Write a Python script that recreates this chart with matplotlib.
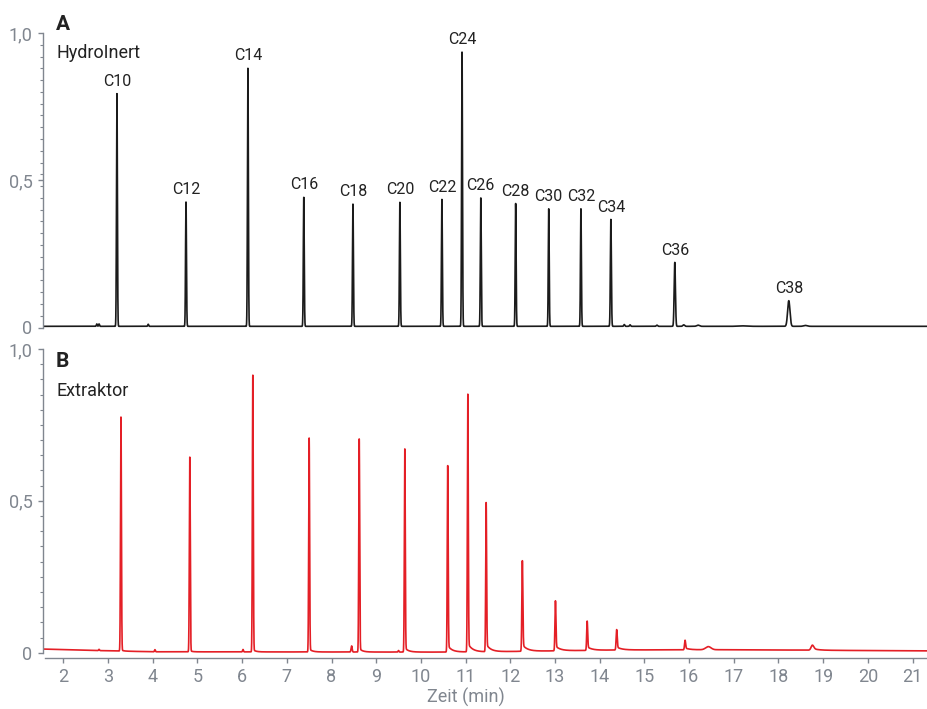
import numpy as np
import matplotlib
matplotlib.use("Agg")
import matplotlib.pyplot as plt
from matplotlib.ticker import FixedLocator, MultipleLocator, FuncFormatter

plt.rcParams['font.family'] = ['Roboto', 'DejaVu Sans']

# ---- Panel A: HydroInert (n-alkanes) ----
labels_a = ['C10', 'C12', 'C14', 'C16', 'C18', 'C20', 'C22', 'C24',
            'C26', 'C28', 'C30', 'C32', 'C34', 'C36', 'C38']
rt_a = [3.20, 4.745, 6.13, 7.38, 8.48, 9.53, 10.47, 10.92,
        11.34, 12.12, 12.86, 13.58, 14.25, 15.68, 18.23]
apex_a = [0.794, 0.426, 0.880, 0.442, 0.419, 0.425, 0.435, 0.935,
          0.440, 0.421, 0.403, 0.403, 0.367, 0.221, 0.091]
width_a = [0.010, 0.010, 0.010, 0.010, 0.010, 0.010, 0.010, 0.010,
           0.010, 0.010, 0.010, 0.010, 0.011, 0.014, 0.026]
baseline_a = 0.004

# small unlabelled signals in panel A
minor_rt_a = [2.75, 2.80, 3.90, 14.55, 14.68, 15.28, 15.88, 16.20, 17.20, 18.60]
minor_h_a = [0.008, 0.008, 0.007, 0.006, 0.005, 0.004, 0.005, 0.004, 0.0015, 0.003]
minor_w_a = [0.010, 0.010, 0.010, 0.012, 0.012, 0.015, 0.020, 0.030, 0.100, 0.040]

# ---- Panel B: Extraktor ----
rt_b = [3.29, 4.83, 6.24, 7.50, 8.62, 9.64, 10.60, 11.05,
        11.46, 12.27, 13.01, 13.72, 14.38, 15.91, 16.43, 18.76]
apex_b = [0.776, 0.644, 0.914, 0.707, 0.704, 0.671, 0.616, 0.851,
          0.494, 0.303, 0.171, 0.104, 0.076, 0.041, 0.020, 0.025]
width_b = [0.010, 0.010, 0.010, 0.010, 0.010, 0.010, 0.010, 0.010,
           0.010, 0.011, 0.011, 0.011, 0.012, 0.012, 0.060, 0.030]
tail_amp_b = [0.004, 0.004, 0.008, 0.010, 0.012, 0.014, 0.022, 0.028,
              0.025, 0.022, 0.016, 0.012, 0.010, 0.006, 0.000, 0.006]
tail_tau_b = [0.05, 0.05, 0.06, 0.07, 0.07, 0.08, 0.09, 0.10,
              0.10, 0.11, 0.11, 0.11, 0.11, 0.10, 0.10, 0.12]

minor_rt_b = [2.80, 4.05, 6.02, 8.45, 9.50]
minor_h_b = [0.004, 0.007, 0.008, 0.020, 0.005]
minor_w_b = [0.010, 0.010, 0.010, 0.012, 0.010]

# drifting detector baseline of trace B
base_t_b = [1.55, 2.5, 4.0, 10.3, 11.5, 12.5, 14.4, 17.0, 20.0, 21.4]
base_v_b = [0.012, 0.008, 0.003, 0.002, 0.003, 0.005, 0.009, 0.010, 0.007, 0.006]

x_ticks = list(range(2, 22))
y_ticks = [0, 0.5, 1.0]

BLACK = '#1b1b1b'
RED = '#e41f26'
GREY = '#80868f'
TEXT = '#222222'


def gauss(t, rt, h, w):
    return h * np.exp(-0.5 * ((t - rt) / w) ** 2)


t = np.linspace(1.55, 21.4, 40000)

trace_a = np.full_like(t, baseline_a)
for rt, ap, w in zip(rt_a, apex_a, width_a):
    trace_a += gauss(t, rt, ap - baseline_a, w)
for rt, h, w in zip(minor_rt_a, minor_h_a, minor_w_a):
    trace_a += gauss(t, rt, h, w)

base_b = np.interp(t, base_t_b, base_v_b)
trace_b = base_b.copy()
for rt, ap, w, a, tau in zip(rt_b, apex_b, width_b, tail_amp_b, tail_tau_b):
    b0 = np.interp(rt, base_t_b, base_v_b)
    trace_b += gauss(t, rt, ap - b0 - a, w)
    tail = np.where(t >= rt, a * np.exp(-(t - rt).clip(0) / tau), 0.0)
    # soften onset of the tail with the peak front
    tail = np.where(t < rt, a * np.exp(-0.5 * ((t - rt) / w) ** 2), tail)
    trace_b += tail
for rt, h, w in zip(minor_rt_b, minor_h_b, minor_w_b):
    trace_b += gauss(t, rt, h, w)

W, H = 928, 709
fig = plt.figure(figsize=(W / 100, H / 100), dpi=100)

x_left_px, x_right_px = 43, 928
xlim = (2 - (63.3 - x_left_px) / 44.7, 2 + (x_right_px - 63.3) / 44.7)


def make_axes(y_top_px, y_zero_px, ymin):
    unit = y_zero_px - y_top_px
    bottom_px = y_zero_px + (-ymin) * unit
    return fig.add_axes([x_left_px / W, 1 - bottom_px / H,
                         (x_right_px - x_left_px) / W, (bottom_px - y_top_px) / H])


fmt = FuncFormatter(lambda v, p: '0' if abs(v) < 1e-9 else f'{v:.1f}'.replace('.', ','))

ax_a = make_axes(33.0, 327.5, -0.02)
ax_b = make_axes(349.0, 652.7, -0.0165)

for ax in (ax_a, ax_b):
    ax.set_xlim(*xlim)
    for s in ('top', 'right'):
        ax.spines[s].set_visible(False)
    ax.spines['left'].set_bounds(0, 1)
    ax.spines['left'].set_color(GREY)
    ax.spines['left'].set_linewidth(1.0)
    ax.yaxis.set_major_locator(FixedLocator(y_ticks))
    ax.yaxis.set_major_formatter(fmt)
    ax.tick_params(axis='y', which='major', length=3.5, width=1.0, color=GREY,
                   labelcolor=GREY, labelsize=13, pad=4)
    ax.tick_params(axis='y', which='minor', length=2.5, width=0.8, color=GREY)
    ax.patch.set_visible(False)

ax_a.set_ylim(-0.02, 1.0)
ax_b.set_ylim(-0.0165, 1.0)
ax_a.yaxis.set_minor_locator(FixedLocator(list(np.arange(0, 1.0001, 0.04))))
ax_b.yaxis.set_minor_locator(MultipleLocator(0.05))

ax_a.spines['bottom'].set_visible(False)
ax_a.set_xticks([])

ax_b.spines['bottom'].set_color(GREY)
ax_b.spines['bottom'].set_linewidth(1.0)
ax_b.spines['bottom'].set_bounds(xlim[0] + 0.04, xlim[1])
ax_b.set_xticks(x_ticks)
ax_b.set_xticklabels([str(v) for v in x_ticks])
ax_b.tick_params(axis='x', which='major', length=3.5, width=1.0, color=GREY,
                 labelcolor=GREY, labelsize=13, pad=4)

ax_a.plot(t, trace_a, color=BLACK, lw=1.2, solid_joinstyle='round')
ax_b.plot(t, trace_b, color=RED, lw=1.2, solid_joinstyle='round')

for lab, rt, ap in zip(labels_a, rt_a, apex_a):
    ax_a.annotate(lab, xy=(rt, ap), xytext=(0, 3.5), textcoords='offset points',
                  ha='center', va='bottom', fontsize=11.5, color=TEXT)

fig.text(56 / W, 1 - 30 / H, 'A', fontsize=15, fontweight='bold', color=TEXT,
         ha='left', va='baseline')
fig.text(57 / W, 1 - 58.3 / H, 'HydroInert', fontsize=13, color=TEXT,
         ha='left', va='baseline')
fig.text(56 / W, 1 - 367.3 / H, 'B', fontsize=15, fontweight='bold', color=TEXT,
         ha='left', va='baseline')
fig.text(57 / W, 1 - 395.7 / H, 'Extraktor', fontsize=13, color=TEXT,
         ha='left', va='baseline')
fig.text(466 / W, 1 - 697 / H, 'Zeit (min)', fontsize=13, color=GREY,
         ha='center', va='center')

fig.savefig('out.png', dpi=100)
